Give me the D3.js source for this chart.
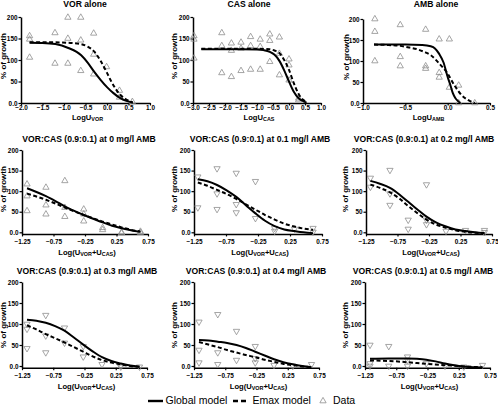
<!DOCTYPE html>
<html><head><meta charset="utf-8">
<script src="https://cdn.jsdelivr.net/npm/d3@7"></script>
<style>body{margin:0;background:#fff}svg{display:block}</style>
</head><body>
<svg id="c" width="498" height="416"></svg>
<script>
// ---------------- DATA ----------------
const titles = ["VOR alone","CAS alone","AMB alone",
  "VOR:CAS (0.9:0.1) at 0 mg/l AMB","VOR:CAS (0.9:0.1) at 0.1 mg/l AMB","VOR:CAS (0.9:0.1) at 0.2 mg/l AMB",
  "VOR:CAS (0.9:0.1) at 0.3 mg/l AMB","VOR:CAS (0.9:0.1) at 0.4 mg/l AMB","VOR:CAS (0.9:0.1) at 0.5 mg/l AMB"];
const yTicks = [0,50,100,150,200];
const xTicksVor = [-2.0,-1.5,-1.0,-0.5,0.0,0.5,1.0];
const xTicksCas = [-3.0,-2.5,-2.0,-1.5,-1.0,-0.5,0.0,0.5,1.0];
const xTicksAmb = [-1.0,-0.5,0.0,0.5];
const xTicksCombo = [-1.25,-0.75,-0.25,0.25,0.75];
const yAxisLabel = "% of growth";
const legendLabels = ["Global model","Emax model","Data"];

const vorPts = [[-1.8,156],[-1.8,148],[-1.8,106],[-1.21,163],[-1.21,92],[-0.91,199],[-0.91,150],[-0.91,92],[-0.61,199],[-0.61,146],[-0.61,75],[-0.31,162],[-0.31,113],[-0.31,67],[-0.01,84],[0.29,29],[0.29,13],[0.59,3]];
const vorGlobal = [[-1.8,140],[-1.5,139.5],[-1.2,137],[-0.9,128],[-0.6,111],[-0.45,94],[-0.3,73],[-0.15,54],[0,37],[0.15,23],[0.3,12],[0.45,5],[0.6,1]];
const vorEmax = [[-1.8,141],[-1.2,141],[-0.9,140],[-0.6,137],[-0.45,131],[-0.3,120],[-0.15,98],[0,70],[0.1,50],[0.2,33],[0.3,20],[0.45,8],[0.6,1]];

const casPts = [[-2.97,156],[-2.97,148],[-2.97,104],[-2.1,163],[-2.1,133],[-2.1,70],[-1.8,139],[-1.8,122],[-1.8,61],[-1.5,141],[-1.5,127],[-1.5,75],[-1.2,154],[-1.2,133],[-1.2,78],[-0.9,148],[-0.9,131],[-0.9,78],[-0.6,160],[-0.6,145],[-0.6,96],[-0.3,153],[-0.3,115],[-0.3,65],[0,102],[0,88],[0,53],[0.3,11],[0.3,7]];
const casGlobal = [[-2.74,125],[-2,125],[-1.5,125],[-1.0,124.5],[-0.8,123],[-0.6,119],[-0.45,112],[-0.3,98],[-0.15,76],[0,50],[0.15,26],[0.3,11],[0.45,4],[0.55,1]];
const casEmax = [[-2.74,126],[-1,126],[-0.6,125],[-0.45,122],[-0.3,116],[-0.15,100],[0,77],[0.15,46],[0.3,21],[0.45,7],[0.55,2]];

const ambPts = [[-0.86,200],[-0.86,170],[-0.86,100],[-0.56,186],[-0.56,110],[-0.56,88],[-0.26,175],[-0.26,88],[-0.26,82],[-0.1,152],[-0.1,72],[-0.1,61],[0.02,152],[0.02,37],[0.13,42],[0.13,0],[0.32,0]];
const ambGlobal = [[-0.87,139],[-0.5,139],[-0.3,138],[-0.2,135],[-0.15,130],[-0.1,117],[-0.05,97],[0,62],[0.03,44],[0.06,24],[0.09,12],[0.12,5],[0.15,0]];
const ambEmax = [[-0.87,139],[-0.7,138],[-0.56,136],[-0.45,132],[-0.36,128],[-0.28,122],[-0.2,114],[-0.1,94],[0,70],[0.08,42],[0.15,22],[0.25,6],[0.32,0]];

const p4Pts = [[-1.17,117],[-1.17,88],[-1.17,52],[-0.87,109],[-0.87,66],[-0.87,44],[-0.57,125],[-0.57,60],[-0.57,38],[-0.27,56],[-0.27,44],[-0.27,27],[0.03,11],[0.03,6],[0.33,0],[0.33,-2],[0.63,2],[0.63,-1]];
const p4Global = [[-1.17,107],[-1.02,98],[-0.87,88],[-0.72,76],[-0.57,63],[-0.42,52],[-0.27,42],[-0.12,33],[0.03,24],[0.18,16],[0.33,10],[0.48,5],[0.63,1]];
const p4Emax = [[-1.17,94],[-1.02,87],[-0.87,79],[-0.72,70],[-0.57,60],[-0.42,51],[-0.27,42],[-0.12,34],[0.03,26],[0.18,19],[0.33,12],[0.48,6],[0.63,2]];

const p5Pts = [[-1.19,135],[-1.19,60],[-0.89,155],[-0.89,94],[-0.89,56],[-0.59,144],[-0.59,68],[-0.59,48],[-0.29,124],[-0.29,34],[0.01,10],[0.01,3],[0.32,8],[0.61,10],[0.61,1]];
const p5Global = [[-1.19,129],[-1.04,124],[-0.89,115],[-0.74,102],[-0.59,86],[-0.44,66],[-0.29,46],[-0.14,28],[0.01,15],[0.16,7],[0.32,3],[0.46,0],[0.61,-2]];
const p5Emax = [[-1.19,121],[-1.04,113],[-0.89,103],[-0.74,93],[-0.59,81],[-0.44,68],[-0.29,55],[-0.14,42],[0.01,31],[0.16,21],[0.32,14],[0.46,9],[0.61,6]];

const p6Pts = [[-1.18,132],[-1.18,110],[-0.87,151],[-0.87,94],[-0.87,66],[-0.58,30],[-0.58,8],[-0.29,116],[-0.29,30],[-0.29,19],[0.02,3],[0.33,5],[0.63,5],[0.63,0]];
const p6Global = [[-1.18,125],[-1.03,118],[-0.87,108],[-0.72,92],[-0.58,74],[-0.43,55],[-0.29,38],[-0.14,24],[0.02,14],[0.17,7],[0.33,3],[0.48,0],[0.63,-2]];
const p6Emax = [[-1.18,116],[-1.03,108],[-0.87,97],[-0.72,82],[-0.58,64],[-0.43,46],[-0.29,31],[-0.14,19],[0.02,11],[0.17,5],[0.33,1],[0.48,-1],[0.63,-2]];

const p7Pts = [[-1.17,100],[-1.17,88],[-1.17,42],[-0.87,121],[-0.87,72],[-0.87,32],[-0.57,91],[-0.57,55],[-0.27,47],[-0.27,22],[0.03,4],[0.33,-2],[0.33,1],[0.63,-2]];
const p7Global = [[-1.17,110],[-1.02,108],[-0.87,103],[-0.72,95],[-0.57,84],[-0.42,68],[-0.27,51],[-0.12,35],[0.03,21],[0.18,12],[0.33,6],[0.48,1],[0.63,-2]];
const p7Emax = [[-1.17,97],[-1.02,87],[-0.87,76],[-0.72,66],[-0.57,56],[-0.42,45],[-0.27,34],[-0.12,23],[0.03,14],[0.18,8],[0.33,4],[0.48,0],[0.63,-2]];

const p8Pts = [[-1.17,105],[-1.17,38],[-1.17,8],[-0.87,123],[-0.87,32],[-0.87,4],[-0.57,83],[-0.57,14],[-0.27,47],[-0.27,18],[-0.27,8],[0.03,2],[0.33,0],[0.63,4]];
const p8Global = [[-1.17,62],[-1.02,61],[-0.87,58],[-0.72,55],[-0.57,50],[-0.42,43],[-0.27,34],[-0.12,25],[0.03,16],[0.18,9],[0.33,4],[0.48,0],[0.63,-3]];
const p8Emax = [[-1.17,57],[-1.02,51],[-0.87,45],[-0.72,38],[-0.57,32],[-0.42,26],[-0.27,21],[-0.12,15],[0.03,10],[0.18,5],[0.33,2],[0.48,-1],[0.63,-3]];

const p9Pts = [[-1.17,50],[-1.17,6],[-1.17,0],[-0.87,47],[-0.87,0],[-0.57,22],[-0.57,14],[-0.57,0],[-0.27,6],[0.03,0],[0.33,-2],[0.63,2]];
const p9Global = [[-1.17,17],[-0.87,18],[-0.57,18],[-0.42,17],[-0.27,15],[-0.12,11],[0.03,6],[0.18,2],[0.33,-1],[0.48,-3],[0.63,-3.5]];
const p9Emax = [[-1.17,13],[-0.87,12],[-0.57,9],[-0.27,5],[0.03,2],[0.33,-1],[0.63,-3]];

// ---------------- LAYOUT ----------------
// [left, right, y0px, y200px, titleX, titleY, yLabX, yLabY, xTickY, xTitleY]
const layout = [
  [21,150,103,17, 85,5, 4,56, 108.5,118],
  [193,321,103,17, 249,5, 175,56, 108.5,118],
  [363,490,103,19, 436,5, 347,57, 108.5,118],
  [22,148,232.3,150, 89,139.5, 4,189, 242.5,252.5],
  [194,322,232.3,150, 260,139.5, 175,189, 242.5,252.5],
  [366,492,232.3,150, 424,139.5, 346,189, 242.5,252.5],
  [22,147,366,282, 87,272, 4,325, 376,386.5],
  [194,319,366,282, 256,272, 175,325, 376,386.5],
  [365,490,366,282, 423,272, 346,325, 376,386.5]
];

const panels = [
  {pts:vorPts, g:vorGlobal, e:vorEmax, ticks:xTicksVor, fmt:d3.format(".1f"), sub:["VOR"], down:false, yMin:0},
  {pts:casPts, g:casGlobal, e:casEmax, ticks:xTicksCas, fmt:d3.format(".1f"), sub:["CAS"], down:false, yMin:0},
  {pts:ambPts, g:ambGlobal, e:ambEmax, ticks:xTicksAmb, fmt:d3.format(".1f"), sub:["AMB"], down:false, yMin:0},
  {pts:p4Pts, g:p4Global, e:p4Emax, ticks:xTicksCombo, fmt:d3.format(".2f"), sub:null, down:false, yMin:-4},
  {pts:p5Pts, g:p5Global, e:p5Emax, ticks:xTicksCombo, fmt:d3.format(".2f"), sub:null, down:true, yMin:-4},
  {pts:p6Pts, g:p6Global, e:p6Emax, ticks:xTicksCombo, fmt:d3.format(".2f"), sub:null, down:true, yMin:-4},
  {pts:p7Pts, g:p7Global, e:p7Emax, ticks:xTicksCombo, fmt:d3.format(".2f"), sub:null, down:true, yMin:-4},
  {pts:p8Pts, g:p8Global, e:p8Emax, ticks:xTicksCombo, fmt:d3.format(".2f"), sub:null, down:true, yMin:-4},
  {pts:p9Pts, g:p9Global, e:p9Emax, ticks:xTicksCombo, fmt:d3.format(".2f"), sub:null, down:true, yMin:-4}
];

const FONT = "'Liberation Sans', Arial, Helvetica, sans-serif";
const svg = d3.select("#c").style("font-family", FONT);
const markColor = "#8e8e8e";
const tri = d3.symbol().type(d3.symbolTriangle).size(17);

panels.forEach((p, i) => {
  const [l, r, y0, y200, tx, ty, ylx, yly, xty, xtt] = layout[i];
  const x = d3.scaleLinear().domain([p.ticks[0], p.ticks[p.ticks.length-1]]).range([l, r]);
  const yBase = d3.scaleLinear().domain([0,200]).range([y0, y200]);
  const y = d3.scaleLinear().domain([p.yMin,200]).range([yBase(p.yMin), y200]);
  const g = svg.append("g");

  const xa = g.append("g").attr("transform", `translate(0,${y(p.yMin)})`)
    .call(d3.axisBottom(x).tickValues(p.ticks).tickFormat(p.fmt).tickSize(2.5).tickSizeOuter(0));
  const ya = g.append("g").attr("transform", `translate(${l},0)`)
    .call(d3.axisLeft(y).tickValues(yTicks).tickFormat(d => d === 0 ? "0.0" : d).tickSize(2.5).tickSizeOuter(0));
  [xa, ya].forEach(a => {
    a.select(".domain").attr("stroke", "#000").attr("stroke-width", 1.5);
    a.selectAll(".tick line").attr("stroke", "#000").attr("stroke-width", 1.2);
    a.selectAll(".tick text").attr("font-family", FONT).attr("font-weight", "bold").attr("font-size", 6.4).attr("fill", "#000");
  });
  xa.selectAll(".tick text").attr("y", 0).attr("dy", 0).attr("dominant-baseline", "middle")
    .attr("transform", `translate(0,${xty - y(p.yMin)})`);
  ya.selectAll(".tick text").attr("x", -3.5);

  g.selectAll("path.pt").data(p.pts).join("path").attr("class", "pt")
    .attr("d", tri)
    .attr("transform", d => `translate(${x(d[0])},${y(Math.max(d[1], p.yMin))})${p.down ? " rotate(180)" : ""}`)
    .attr("fill", "none").attr("stroke", markColor).attr("stroke-width", 0.8);

  const line = d3.line().x(d => x(d[0])).y(d => y(Math.max(d[1], p.yMin))).curve(d3.curveMonotoneX);
  g.append("path").datum(p.e).attr("d", line).attr("fill", "none").attr("stroke", "#000")
    .attr("stroke-width", 2).attr("stroke-dasharray", "4,2.5");
  g.append("path").datum(p.g).attr("d", line).attr("fill", "none").attr("stroke", "#000")
    .attr("stroke-width", 2);

  g.append("text").attr("x", tx).attr("y", ty).attr("text-anchor", "middle").attr("dominant-baseline", "middle")
    .attr("font-weight", "bold").attr("font-size", 8.6).text(titles[i]);

  g.append("text").attr("transform", `translate(${ylx},${yly}) rotate(-90)`).attr("text-anchor", "middle")
    .attr("dominant-baseline", "middle").attr("font-weight", "bold").attr("font-size", 8).text(yAxisLabel);

  const xt = g.append("text").attr("x", (l + r) / 2 + 2).attr("y", xtt).attr("text-anchor", "middle")
    .attr("dominant-baseline", "middle").attr("font-weight", "bold").attr("font-size", 7.6);
  if (p.sub) {
    xt.append("tspan").text("LogU");
    xt.append("tspan").attr("font-size", 5.4).attr("dy", 2).text(p.sub[0]);
  } else {
    xt.append("tspan").text("Log(U");
    xt.append("tspan").attr("font-size", 5.4).attr("dy", 2).text("VOR");
    xt.append("tspan").attr("dy", -2).text("+U");
    xt.append("tspan").attr("font-size", 5.4).attr("dy", 2).text("CAS");
    xt.append("tspan").attr("dy", -2).text(")");
  }
});

// legend
const lg = svg.append("g");
const ly = 401;
lg.append("line").attr("x1", 148).attr("x2", 163).attr("y1", ly).attr("y2", ly).attr("stroke", "#000").attr("stroke-width", 2.4);
lg.append("text").attr("x", 165.5).attr("y", ly).attr("dominant-baseline", "middle").attr("font-size", 10.5).text(legendLabels[0]);
lg.append("line").attr("x1", 233).attr("x2", 248).attr("y1", ly).attr("y2", ly).attr("stroke", "#000").attr("stroke-width", 2.4).attr("stroke-dasharray", "5,3");
lg.append("text").attr("x", 252.5).attr("y", ly).attr("dominant-baseline", "middle").attr("font-size", 10.5).text(legendLabels[1]);
lg.append("path").attr("d", tri).attr("transform", `translate(323,${ly})`).attr("fill", "none").attr("stroke", markColor).attr("stroke-width", 0.8);
lg.append("text").attr("x", 333).attr("y", ly).attr("dominant-baseline", "middle").attr("font-size", 10.5).text(legendLabels[2]);
</script></body></html>
